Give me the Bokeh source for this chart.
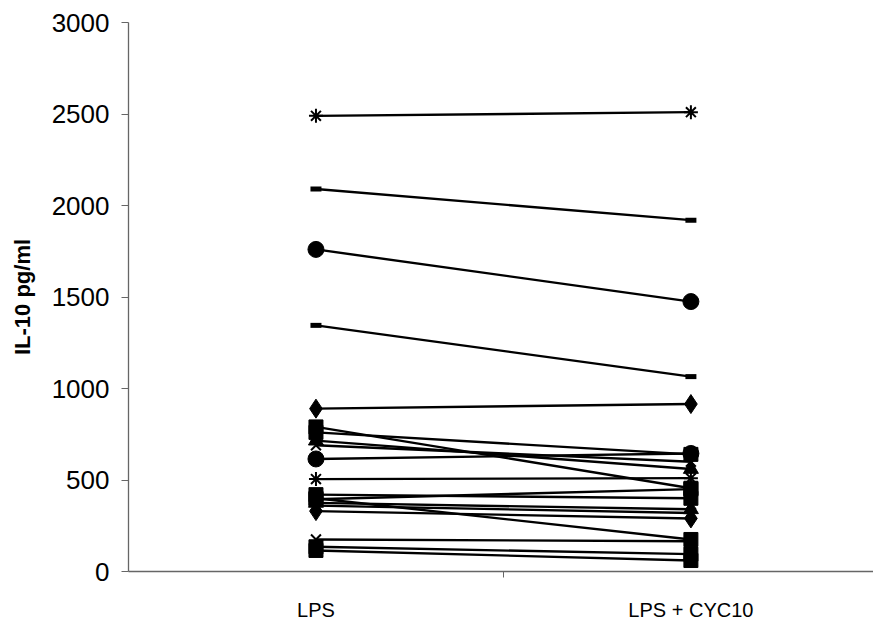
from bokeh.plotting import figure
from bokeh.models import FixedTicker, Range1d, ColumnDataSource
from bokeh.embed import file_html
from bokeh.resources import INLINE

categories = ["LPS", "LPS + CYC10"]
cat_pos = [0.5, 1.5]

lps = [2490, 2090, 1760, 1345, 890, 790, 760, 715, 690, 615, 505, 420, 395, 375, 360, 330, 400, 175, 135, 115]
cyc = [2510, 1920, 1475, 1065, 915, 455, 640, 560, 600, 645, 510, 400, 450, 340, 320, 290, 175, 165, 95, 60]
markers = ["asterisk", "dash", "circle", "dash", "diamond", "square", "square", "triangle", "x", "circle",
           "asterisk", "square", "square", "triangle", "x", "diamond", "square", "x", "square", "square"]

p = figure(width=873, height=623, output_backend="svg", toolbar_location=None,
           x_range=Range1d(0, 1.987), y_range=Range1d(0, 3000),
           min_border_left=128, min_border_right=0, min_border_top=22, min_border_bottom=51)
p.outline_line_color = None
p.xgrid.visible = False
p.ygrid.visible = False

for a, b, m in zip(lps, cyc, markers):
    src = ColumnDataSource(dict(x=cat_pos, y=[a, b]))
    p.line("x", "y", source=src, line_color="black", line_width=2.4)
    if m == "dash":
        p.scatter("x", "y", source=src, marker="dash", size=11, line_color="black", line_width=5)
    elif m in ("x", "asterisk"):
        p.scatter("x", "y", source=src, marker=m, size=14, line_color="black", line_width=2)
    else:
        sz = {"circle": 16, "diamond": 19, "square": 14, "triangle": 15}[m]
        p.scatter("x", "y", source=src, marker=m, size=sz, fill_color="black", line_color="black")

p.yaxis.ticker = FixedTicker(ticks=[0, 500, 1000, 1500, 2000, 2500, 3000])
p.yaxis.axis_label = "IL-10 pg/ml"
p.yaxis.axis_label_text_font = "Liberation Sans"
p.yaxis.axis_label_text_font_style = "bold"
p.yaxis.axis_label_text_font_size = "22px"
p.yaxis.axis_label_standoff = 14
p.yaxis.major_label_text_font = "Liberation Sans"
p.yaxis.major_label_text_font_size = "26px"
p.yaxis.major_label_standoff = 12
p.yaxis.minor_tick_line_color = None
p.yaxis.major_tick_out = 7
p.yaxis.major_tick_in = 0

p.xaxis.ticker = FixedTicker(ticks=cat_pos, minor_ticks=[1.0])
p.xaxis.major_label_overrides = {cat_pos[0]: categories[0], cat_pos[1]: categories[1]}
p.xaxis.major_label_text_font = "Liberation Sans"
p.xaxis.major_label_text_font_size = "20px"
p.xaxis.major_label_standoff = 21
p.xaxis.major_tick_out = 0
p.xaxis.major_tick_in = 0
p.xaxis.minor_tick_out = 6
p.xaxis.minor_tick_in = 0

for ax in (p.xaxis, p.yaxis):
    ax.axis_line_color = "#666666"
    ax.axis_line_width = 1.3
    ax.major_tick_line_color = "#666666"
    ax.minor_tick_line_color = "#666666"
    ax.major_label_text_color = "black"
    ax.axis_label_text_color = "black"
p.yaxis.minor_tick_line_color = None

open("out.html", "w").write(file_html(p, INLINE))
